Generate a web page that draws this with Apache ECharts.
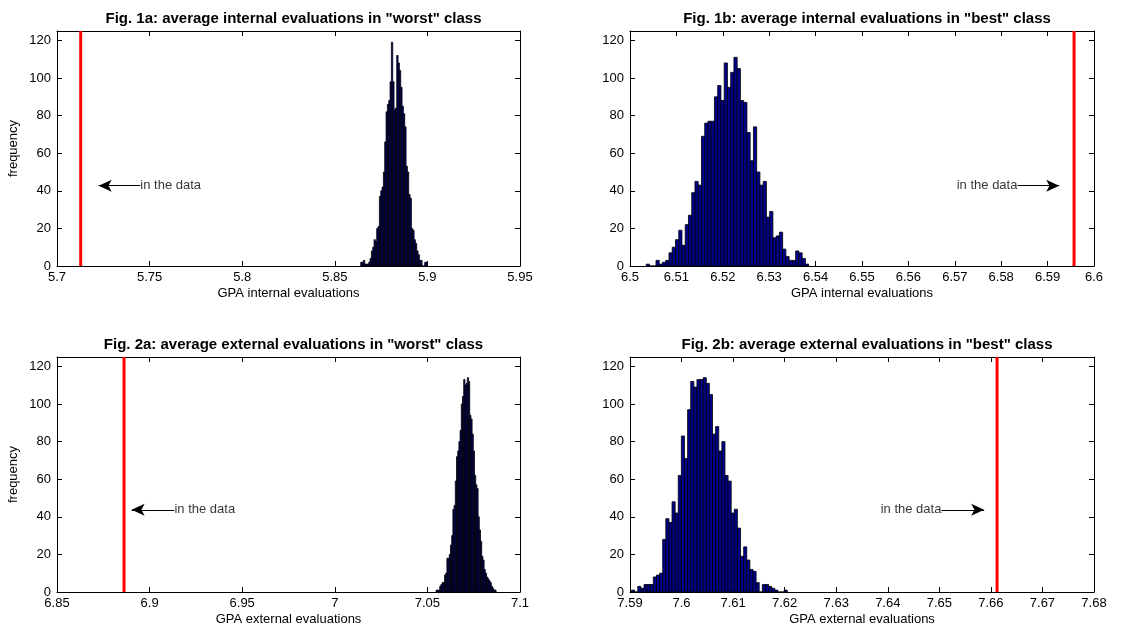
<!DOCTYPE html>
<html><head><meta charset="utf-8">
<script src="https://cdn.jsdelivr.net/npm/echarts@6/dist/echarts.min.js"></script>
<style>html,body{margin:0;padding:0;background:#fff}#c{width:1130px;height:628px}</style>
</head><body><div id="c"></div>
<script>
// ---------- data ----------
const titles = [
  'Fig. 1a: average internal evaluations in "worst" class',
  'Fig. 1b: average internal evaluations in "best" class',
  'Fig. 2a: average external evaluations in "worst" class',
  'Fig. 2b: average external evaluations in "best" class'
];
const xNames = ['GPA internal evaluations','GPA internal evaluations','GPA external evaluations','GPA external evaluations'];
const yName = 'frequency';
const xMins = [5.7, 6.5, 6.85, 7.59];
const xMaxs = [5.95, 6.6, 7.1, 7.68];
const xSteps = [0.05, 0.01, 0.05, 0.01];
const yMax = 125, yStep = 20;

// histogram bin ranges [first edge, last edge] and counts per bin
const binRange1a = [5.864, 5.900];
const counts1a = [2,2,3,1,1,1,2,4,8,10, 14,13,20,21,37,40,42,50,66,82, 86,88,98,119,98,83,84,112,108,104, 95,85,81,74,53,50,38,36,20,19, 14,12,8,6,3,3,0,0,2,2];
const binRange1b = [6.5035, 6.5385];
const counts1b = [1,0,0,3,1,2,3,7,10,14, 19,11,22,27,39,45,43,69,76,77, 77,90,96,88,108,95,103,111,105,88, 87,71,56,74,50,43,45,26,29,15, 16,18,9,5,3,3,8,7,4,1];
const binRange2a = [7.0547, 7.0871];
const counts2a = [1,1,1,3,4,5,5,9,10,18, 18,20,25,30,44,46,59,72,75,80, 86,100,104,113,110,111,114,112,94,92, 84,75,62,57,55,40,33,27,19,17, 12,10,8,7,6,5,3,2,1,1];
const binRange2b = [7.5903, 7.6205];
const counts2b = [1,0,3,2,4,4,4,8,9,10, 28,39,37,48,42,62,83,71,97,112, 109,113,113,114,111,105,84,88,75,80, 62,59,42,44,34,19,24,17,12,11, 5,0,4,4,3,2,1,0,0,1];

// observed value "in the data"
const dataValues = [5.7128, 6.5957, 6.8862, 7.6612];
// annotation: arrow from (tail) to (head), at frequency y
const arrowTail = [5.7450, 6.5835, 6.9134, 7.6504];
const arrowHead = [5.7225, 6.5925, 6.8903, 7.6587];
const arrowY = [42.7, 42.7, 43.7, 43.7];
const annoText = 'in the data';

// ---------- layout ----------
const grids = [
  {left: 57, top: 31, width: 463, height: 235},
  {left: 630, top: 31, width: 464, height: 235},
  {left: 57, top: 357, width: 463, height: 235},
  {left: 630, top: 357, width: 464, height: 235}
];
const titleTops = [6, 6, 332, 332];
const binRanges = [binRange1a, binRange1b, binRange2a, binRange2b];
const countsAll = [counts1a, counts1b, counts2a, counts2b];
const FONT = 'Liberation Sans, Arial, sans-serif';

function histData(range, counts) {
  const w = (range[1] - range[0]) / counts.length;
  return counts.map((c, i) => [range[0] + i * w, range[0] + (i + 1) * w, c]);
}
function renderHist(params, api) {
  const y = api.value(2);
  const p0 = api.coord([api.value(0), y]);
  const p1 = api.coord([api.value(1), 0]);
  return {type: 'rect',
    shape: {x: p0[0], y: p0[1], width: p1[0] - p0[0], height: p1[1] - p0[1]},
    style: {fill: '#00008c', stroke: '#000', lineWidth: 0.8}};
}

const option = {animation: false, backgroundColor: '#fff',
  title: [], grid: [], xAxis: [], yAxis: [], series: []};
const axisLine = {show: true, onZero: false, lineStyle: {color: '#000', width: 1}};
const tick = {show: true, inside: true, length: 5, lineStyle: {color: '#000'}};

grids.forEach((g, k) => {
  option.grid.push(Object.assign({containLabel: false}, g));
  option.title.push({text: titles[k], left: g.left + g.width / 2, top: titleTops[k], textAlign: 'center',
    textStyle: {fontFamily: FONT, fontSize: 15, fontWeight: 'bold', color: '#000'}});
  const xb = option.xAxis.length;
  option.xAxis.push({type: 'value', gridIndex: k, position: 'bottom', min: xMins[k], max: xMaxs[k], interval: xSteps[k],
    axisLine, axisTick: tick, splitLine: {show: false},
    axisLabel: {color: '#000', fontFamily: FONT, fontSize: 13, margin: 5},
    name: xNames[k], nameLocation: 'middle', nameGap: 21,
    nameTextStyle: {color: '#000', fontFamily: FONT, fontSize: 13}});
  option.xAxis.push({type: 'value', gridIndex: k, position: 'top', min: xMins[k], max: xMaxs[k], interval: xSteps[k],
    axisLine, axisTick: tick, splitLine: {show: false}, axisLabel: {show: false}});
  const yb = option.yAxis.length;
  const yl = {type: 'value', gridIndex: k, position: 'left', min: 0, max: yMax, interval: yStep,
    axisLine, axisTick: tick, splitLine: {show: false},
    axisLabel: {color: '#000', fontFamily: FONT, fontSize: 13, margin: 6, showMaxLabel: false}};
  if (k % 2 === 0) {
    Object.assign(yl, {name: yName, nameLocation: 'middle', nameGap: 37, nameRotate: 90,
      nameTextStyle: {color: '#000', fontFamily: FONT, fontSize: 13}});
  }
  option.yAxis.push(yl);
  option.yAxis.push({type: 'value', gridIndex: k, position: 'right', min: 0, max: yMax, interval: yStep,
    axisLine, axisTick: tick, splitLine: {show: false}, axisLabel: {show: false}});

  option.series.push({type: 'custom', xAxisIndex: xb, yAxisIndex: yb, renderItem: renderHist,
    encode: {x: [0, 1], y: 2}, data: histData(binRanges[k], countsAll[k]), clip: true, z: 2});
  option.series.push({type: 'line', xAxisIndex: xb, yAxisIndex: yb, symbol: 'none',
    data: [[dataValues[k], 0], [dataValues[k], yMax]], lineStyle: {color: '#ff0000', width: 3}, z: 3,
    markLine: {silent: true, symbol: ['none', 'arrow'], symbolSize: [9, 13],
      lineStyle: {color: '#000', width: 1, type: 'solid'}, label: {show: false},
      data: [[{coord: [arrowTail[k], arrowY[k]]}, {coord: [arrowHead[k], arrowY[k]]}]]}});
  option.series.push({type: 'scatter', xAxisIndex: xb, yAxisIndex: yb, symbolSize: 0,
    data: [[arrowTail[k], arrowY[k]]],
    label: {show: true, formatter: annoText, position: arrowHead[k] < arrowTail[k] ? 'right' : 'left', distance: 0,
      color: '#000', fontFamily: FONT, fontSize: 13}});
});

const chart = echarts.init(document.getElementById('c'), null, {renderer: 'canvas'});
chart.setOption(option);
</script>
</body></html>
